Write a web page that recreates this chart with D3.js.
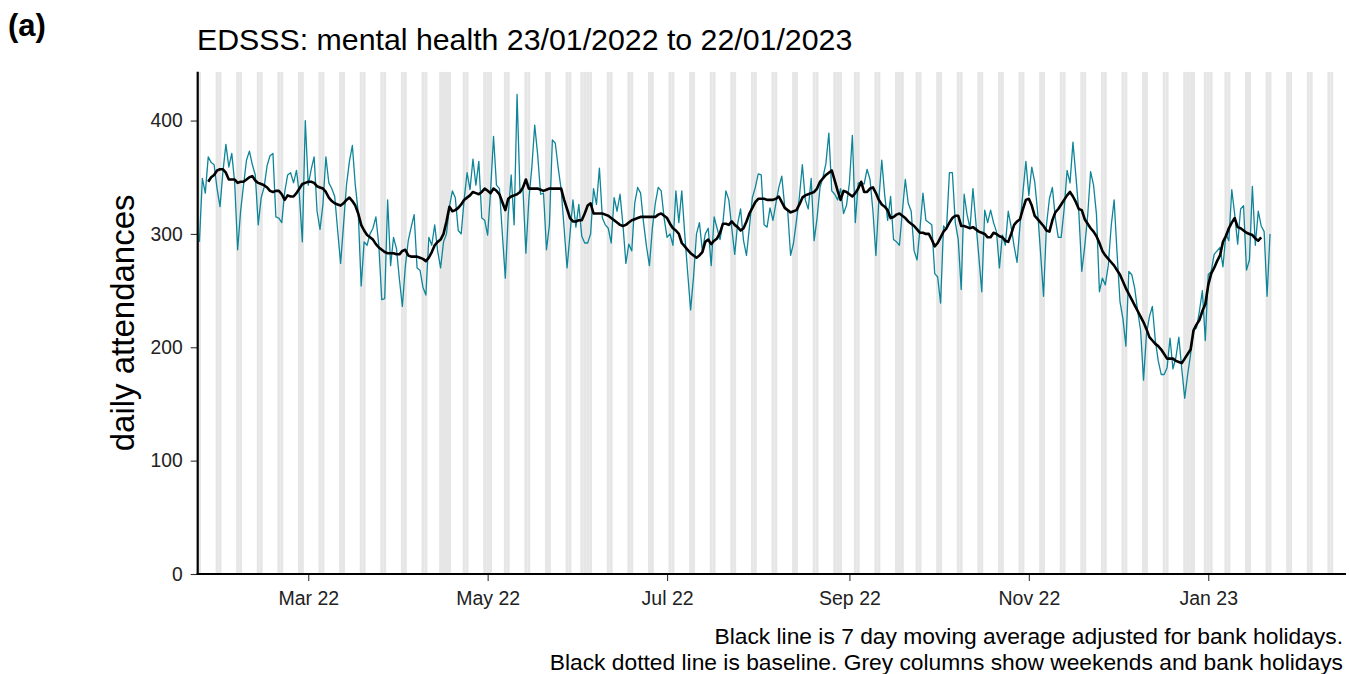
<!DOCTYPE html>
<html>
<head>
<meta charset="utf-8">
<script src="https://cdn.jsdelivr.net/npm/d3@7"></script>
<style>
  html, body { margin: 0; padding: 0; background: #fff; }
  svg { display: block; font-family: "Liberation Sans", Arial, sans-serif; }
</style>
</head>
<body>
<svg id="chart" width="1349" height="674"></svg>
<script>
// ---------------- data ----------------
const panelLabel = "(a)";
const titleText = "EDSSS: mental health 23/01/2022 to 22/01/2023";
const yAxisTitle = "daily attendances";
const captionLines = [
  "Black line is 7 day moving average adjusted for bank holidays.",
  "Black dotted line is baseline. Grey columns show weekends and bank holidays"
];
const firstDay = "2022-01-23";           // first daily value
const maFirstOffset = 3;                  // centred 7-day average starts 3 days in
const xDomain = ["2022-01-22T10:00:00Z", "2023-02-16T20:00:00Z"];
const xTickDates = ["2022-03-01", "2022-05-01", "2022-07-01", "2022-09-01", "2022-11-01", "2023-01-01"];
const xTickLabels = ["Mar 22", "May 22", "Jul 22", "Sep 22", "Nov 22", "Jan 23"];
const yTicks = [0, 100, 200, 300, 400];
const yMax = 443.1;
const bankHolidays = ["2022-04-15", "2022-04-18", "2022-05-02", "2022-06-02", "2022-06-03",
  "2022-08-29", "2022-09-19", "2022-12-26", "2022-12-27", "2023-01-02"];

const daily = [
  293, 349, 336, 368, 363, 361, 340, 324, 355, 379,
  359, 371, 345, 286, 320, 343, 365, 373, 361, 352,
  308, 332, 341, 360, 369, 371, 315, 314, 310, 337,
  352, 354, 345, 356, 334, 293, 400, 343, 357, 368,
  320, 304, 326, 368, 345, 340, 333, 303, 274, 308,
  343, 364, 378, 343, 319, 254, 293, 290, 300, 305,
  315, 290, 242, 243, 330, 272, 297, 287, 260, 236,
  271, 294, 306, 317, 270, 268, 253, 246, 297, 290,
  308, 285, 270, 293, 300, 324, 338, 332, 303, 300,
  330, 354, 339, 366, 343, 364, 314, 312, 299, 338,
  386, 343, 340, 300, 261, 317, 352, 308, 423, 336,
  340, 283, 330, 358, 396, 370, 335, 336, 286, 308,
  383, 380, 358, 339, 305, 270, 300, 330, 306, 326,
  298, 292, 292, 300, 340, 326, 358, 314, 308, 305,
  292, 332, 320, 335, 308, 274, 291, 285, 327, 341,
  336, 310, 289, 272, 305, 327, 341, 338, 314, 297,
  300, 290, 338, 310, 338, 300, 266, 233, 262, 300,
  310, 285, 300, 305, 272, 315, 305, 295, 310, 338,
  330, 305, 282, 309, 322, 294, 281, 306, 332, 341,
  353, 352, 308, 306, 323, 312, 327, 341, 351, 324,
  321, 281, 292, 312, 333, 361, 330, 322, 349, 294,
  314, 341, 350, 362, 389, 338, 335, 330, 340, 318,
  325, 345, 387, 310, 345, 345, 344, 357, 348, 320,
  281, 330, 365, 334, 312, 333, 295, 293, 290, 320,
  348, 327, 320, 285, 277, 305, 336, 312, 310, 308,
  265, 262, 239, 307, 304, 354, 354, 310, 295, 251,
  335, 317, 305, 340, 310, 280, 249, 321, 310, 321,
  310, 302, 270, 299, 290, 320, 306, 289, 275, 308,
  337, 364, 334, 359, 346, 319, 283, 245, 308, 331,
  341, 314, 297, 297, 322, 356, 345, 381, 351, 319,
  267, 289, 316, 355, 343, 317, 249, 261, 255, 272,
  307, 330, 283, 240, 225, 201, 267, 264, 252, 232,
  215, 171, 212, 227, 236, 206, 188, 176, 176, 182,
  208, 181, 191, 209, 181, 155, 176, 194, 215, 217,
  232, 250, 206, 264, 267, 282, 285, 288, 271, 300,
  294, 339, 317, 291, 322, 325, 268, 277, 342, 290,
  320, 307, 302, 245, 300
];

const movingAvg = [
  346, 350, 352, 356, 357, 357, 354,
  348, 348, 348, 345, 346, 346, 348, 350, 351, 347,
  345, 344, 343, 341, 338, 337, 338, 338, 335, 330,
  334, 333, 333, 336, 340, 344, 345, 346, 346, 345,
  342, 341, 340, 337, 332, 329, 327, 326, 325, 327,
  330, 332, 329, 325, 318, 308, 303, 299, 297, 295,
  291, 288, 286, 284, 283, 283, 283, 282, 282, 285,
  286, 281, 280, 280, 280, 279, 278, 276, 279, 284,
  290, 293, 295, 300, 311, 324, 320, 321, 323, 326,
  330, 332, 334, 337, 336, 335, 337, 340, 338, 336,
  340, 338, 335, 328, 321, 331, 333, 334, 335, 337,
  341, 348, 340, 340, 340, 340, 339, 338, 339, 340,
  340, 340, 340, 340, 330, 322, 314, 311, 311, 312,
  312, 318, 325, 327, 318, 318, 318, 318, 317, 316,
  314, 312, 310, 308, 307, 308, 310, 312, 313, 314,
  315, 315, 315, 315, 315, 315, 317, 318, 316, 314,
  309, 305, 303, 300, 292, 289, 286, 283, 281, 279,
  281, 284, 293, 295, 291, 294, 296, 301, 309, 309,
  308, 311, 308, 306, 303, 305, 311, 318, 323, 328,
  331, 331, 331, 330, 330, 330, 331, 333, 328, 323,
  321, 319, 320, 321, 326, 332, 334, 335, 336, 337,
  340, 346, 349, 352, 354, 356, 347, 338, 330, 338,
  337, 335, 333, 336, 340, 346, 337, 337, 340, 341,
  336, 330, 326, 324, 321, 314, 315, 317, 318, 316,
  314, 311, 309, 307, 304, 301, 301, 300, 300, 295,
  289, 292, 297, 302, 305, 310, 314, 316, 316, 307,
  307, 306, 305, 306, 304, 302, 301, 300, 297, 297,
  301, 300, 298, 297, 294, 293, 300, 308, 311, 313,
  322, 330, 331, 325, 316, 313, 310, 307, 303, 302,
  312, 319, 322, 326, 330, 334, 337, 333, 328, 322,
  321, 313, 309, 305, 302, 298, 292, 285, 281, 278,
  275, 272, 268, 264, 258, 252, 247, 242, 237, 232,
  227, 222, 216, 209, 206, 203, 201, 198, 194, 190,
  190, 190, 188, 187, 186, 190, 194, 198, 215, 220,
  224, 232, 238, 255, 265, 270, 276, 281, 293, 298,
  305, 310, 314, 306, 305, 303, 301, 300, 299, 296,
  294, 297
];

// ---------------- layout ----------------
const svg = d3.select("#chart");
const plotLeft = 197.7, plotRight = 1346, plotTop = 71.7, plotBottom = 574;
const parseDay = d3.utcParse("%Y-%m-%d");
const start = parseDay(firstDay);

const x = d3.scaleUtc()
  .domain(xDomain.map(s => new Date(s)))
  .range([plotLeft, plotRight]);
const y = d3.scaleLinear().domain([0, yMax]).range([plotBottom, plotTop]);

const dailyPts = daily.map((v, i) => ({ date: d3.utcDay.offset(start, i), v }));
const maPts = movingAvg.map((v, i) => ({ date: d3.utcDay.offset(start, i + maFirstOffset), v }));

svg.append("defs").append("clipPath").attr("id", "plotclip")
  .append("rect").attr("x", plotLeft).attr("y", plotTop)
  .attr("width", plotRight - plotLeft).attr("height", plotBottom - plotTop);

// grey columns: weekends and bank holidays
const bh = new Set(bankHolidays);
const fmtDay = d3.utcFormat("%Y-%m-%d");
const greyDays = d3.utcDays(start, d3.utcDay.offset(new Date(xDomain[1]), 1))
  .filter(d => d.getUTCDay() === 0 || d.getUTCDay() === 6 || bh.has(fmtDay(d)));

svg.append("g").attr("clip-path", "url(#plotclip)")
  .selectAll("rect").data(greyDays).join("rect")
  .attr("x", d => x(d3.utcHour.offset(d, -12)))
  .attr("width", d => x(d3.utcHour.offset(d, 12)) - x(d3.utcHour.offset(d, -12)))
  .attr("y", plotTop).attr("height", plotBottom - plotTop)
  .attr("fill", "#e6e6e6");

// daily line
svg.append("path").datum(dailyPts)
  .attr("fill", "none").attr("stroke", "#0e8599").attr("stroke-width", 1.3)
  .attr("stroke-linejoin", "round")
  .attr("d", d3.line().x(d => x(d.date)).y(d => y(d.v)));

// moving average
svg.append("path").datum(maPts)
  .attr("fill", "none").attr("stroke", "#000").attr("stroke-width", 2.6)
  .attr("stroke-linejoin", "round").attr("stroke-linecap", "butt")
  .attr("d", d3.line().x(d => x(d.date)).y(d => y(d.v)));

// axes
const tickCol = "#333333", labCol = "#222222";
const yAxis = svg.append("g").attr("transform", `translate(${plotLeft},0)`)
  .call(d3.axisLeft(y).tickValues(yTicks).tickSize(7).tickPadding(8).tickFormat(d3.format("d")));
yAxis.select(".domain").remove();
yAxis.selectAll(".tick line").attr("stroke", tickCol).attr("stroke-width", 1.1);
yAxis.selectAll(".tick text").attr("fill", labCol).attr("font-size", 19.3)
  .attr("font-family", "Liberation Sans, Arial, sans-serif");

const xTicks = xTickDates.map(parseDay);
const xAxis = svg.append("g").attr("transform", `translate(0,${plotBottom})`)
  .call(d3.axisBottom(x).tickValues(xTicks).tickSize(7).tickPadding(10)
    .tickFormat((d, i) => xTickLabels[i]));
xAxis.select(".domain").remove();
xAxis.selectAll(".tick line").attr("stroke", tickCol).attr("stroke-width", 1.1);
xAxis.selectAll(".tick text").attr("fill", labCol).attr("font-size", 19.5)
  .attr("font-family", "Liberation Sans, Arial, sans-serif");

// axis lines
svg.append("line").attr("x1", plotLeft).attr("x2", plotLeft)
  .attr("y1", plotTop).attr("y2", plotBottom + 1.1)
  .attr("stroke", "#000").attr("stroke-width", 2.2);
svg.append("line").attr("x1", plotLeft - 1.1).attr("x2", plotRight)
  .attr("y1", plotBottom).attr("y2", plotBottom)
  .attr("stroke", "#000").attr("stroke-width", 2.2);

// texts
svg.append("text").attr("x", 8).attr("y", 36).attr("font-size", 31)
  .attr("font-weight", "bold").attr("fill", "#000").text(panelLabel);
svg.append("text").attr("x", 197).attr("y", 50).attr("font-size", 30.3)
  .attr("fill", "#000").text(titleText);
svg.append("text")
  .attr("transform", `translate(134,${(plotTop + plotBottom) / 2}) rotate(-90)`)
  .attr("text-anchor", "middle").attr("font-size", 33).attr("fill", "#000")
  .text(yAxisTitle);
svg.selectAll("text.caption").data(captionLines).join("text")
  .attr("class", "caption")
  .attr("x", 1343).attr("y", (d, i) => 643.5 + i * 26.5)
  .attr("text-anchor", "end").attr("font-size", 22.8).attr("fill", "#000")
  .text(d => d);
</script>
</body>
</html>
